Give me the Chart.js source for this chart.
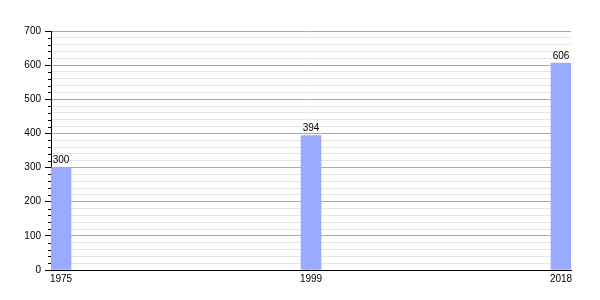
<!DOCTYPE html>
<html>
<head>
<meta charset="utf-8">
<script src="https://cdn.jsdelivr.net/npm/chart.js@4/dist/chart.umd.min.js"></script>
<style>
  body { margin: 0; background: #fff; }
</style>
</head>
<body>
<canvas id="barChart" width="600" height="300"></canvas>
<script>
const years = ['1975', '1999', '2018'];
const values = [300, 394, 606];
const yMax = 700;
const yMajor = 100;
const yMinor = 20;

const fontFamily = '"Liberation Sans", Arial, sans-serif';

// little value labels on top of the bars
const barLabels = {
    id: 'barLabels',
    afterDatasetsDraw(chart) {
        const ctx = chart.ctx;
        const meta = chart.getDatasetMeta(0);
        ctx.save();
        ctx.font = '10px ' + fontFamily;
        ctx.fillStyle = '#000';
        ctx.textAlign = 'center';
        ctx.textBaseline = 'bottom';
        meta.data.forEach((bar, i) => {
            ctx.fillText(values[i], bar.x, bar.y - 2);
        });
        ctx.restore();
    }
};

// short tick marks for the minor steps
const minorTicks = {
    id: 'minorTicks',
    afterDraw(chart) {
        const ctx = chart.ctx;
        const y = chart.scales.y;
        const left = chart.chartArea.left;
        ctx.save();
        ctx.strokeStyle = '#000';
        ctx.lineWidth = 1;
        y.ticks.forEach(t => {
            if (t.value % yMajor === 0) return;
            const py = Math.round(y.getPixelForValue(t.value)) + 0.5;
            ctx.beginPath();
            ctx.moveTo(left - 3, py);
            ctx.lineTo(left, py);
            ctx.stroke();
        });
        ctx.restore();
    }
};

const ctx = document.getElementById('barChart').getContext('2d');
new Chart(ctx, {
    type: 'bar',
    data: {
        datasets: [{
            data: values.map((v, i) => ({ x: i, y: v })),
            backgroundColor: '#99aaff',
            borderWidth: 0,
            barThickness: 20
        }]
    },
    options: {
        responsive: false,
        animation: false,
        layout: {
            padding: { top: 31, right: 29, bottom: 0, left: 0 }
        },
        plugins: {
            legend: { display: false },
            tooltip: { enabled: false }
        },
        scales: {
            x: {
                type: 'linear',
                offset: false,
                min: -0.04,
                max: years.length - 1 + 0.04,
                afterBuildTicks: scale => {
                    scale.ticks = years.map((y, i) => ({ value: i }));
                },
                afterFit: scale => { scale.height = 30; },
                grid: { display: false, drawTicks: false },
                border: { display: true, color: '#000', width: 1 },
                ticks: {
                    padding: 3,
                    maxRotation: 0,
                    color: '#000',
                    font: { family: fontFamily, size: 10 },
                    callback: v => years[v]
                }
            },
            y: {
                min: 0,
                max: yMax,
                afterFit: scale => { scale.width = 51; },
                grid: {
                    color: c => c.tick.value % yMajor === 0 ? '#a8a8a8' : '#e4e4e4',
                    tickColor: c => c.tick.value % yMajor === 0 ? '#000' : 'rgba(0,0,0,0)',
                    tickLength: 6
                },
                border: { display: true, color: '#000', width: 1 },
                ticks: {
                    stepSize: yMinor,
                    padding: 4,
                    autoSkip: false,
                    color: '#000',
                    font: { family: fontFamily, size: 10 },
                    callback: v => v % yMajor === 0 ? v : ''
                }
            }
        }
    },
    plugins: [barLabels, minorTicks]
});
</script>
</body>
</html>
